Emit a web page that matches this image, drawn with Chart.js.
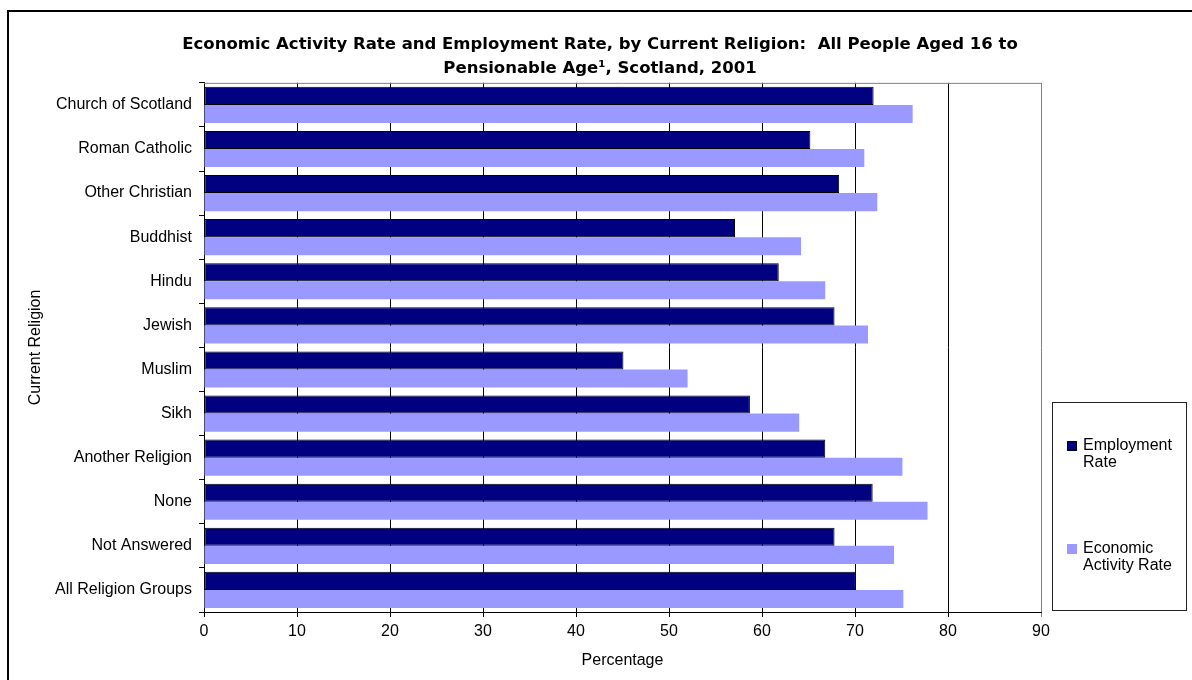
<!DOCTYPE html>
<html lang="en">
<head>
    <meta charset="UTF-8">
    <title>Economic Activity and Employment by Religion</title>
    <style>
        body { margin: 0; background: #fff; }
        canvas { display: block; }
    </style>
</head>
<body>
<canvas id="chart_religion" width="1192" height="680" role="img"
        aria-label="Economic Activity Rate and Employment Rate by Current Religion"></canvas>

<script src="https://cdn.jsdelivr.net/npm/chart.js@4.4.1/dist/chart.umd.min.js"></script>
<script>
    const religions = ['Church of Scotland', 'Roman Catholic', 'Other Christian', 'Buddhist', 'Hindu', 'Jewish',
        'Muslim', 'Sikh', 'Another Religion', 'None', 'Not Answered', 'All Religion Groups'];
    const employmentRate = [72.0, 65.2, 68.3, 57.1, 61.8, 67.8, 45.1, 58.7, 66.8, 71.9, 67.8, 70.1];
    const economicActivityRate = [76.2, 71.0, 72.4, 64.2, 66.8, 71.4, 52.0, 64.0, 75.1, 77.8, 74.2, 75.2];
    const seriesNames = ['Employment Rate', 'Economic Activity Rate'];
    const legendLines = [['Employment', 'Rate'], ['Economic', 'Activity Rate']];
    const titleLines = ['Economic Activity Rate and Employment Rate, by Current Religion:  All People Aged 16 to',
        'Pensionable Age\u00B9, Scotland, 2001'];

    const FONT = "'Liberation Sans', Arial, sans-serif";

    // frame, top/right plot border and the boxed legend on the right
    const decorations = {
        id: 'decorations',
        afterDraw(chart) {
            const ctx = chart.ctx;
            const area = chart.chartArea;
            ctx.save();

            ctx.strokeStyle = '#808080';
            ctx.lineWidth = 1;
            ctx.beginPath();
            ctx.moveTo(area.left, area.top + 0.5);
            ctx.lineTo(area.right, area.top + 0.5);
            ctx.stroke();

            ctx.strokeStyle = '#000';
            ctx.lineWidth = 2;
            ctx.strokeRect(8, 11, 1300, 800);

            ctx.lineWidth = 1;
            ctx.strokeStyle = '#222';
            ctx.strokeRect(1052.5, 402.5, 134, 208);

            const rows = [446, 549];
            ctx.font = '16px ' + FONT;
            ctx.textBaseline = 'middle';
            ctx.textAlign = 'left';
            chart.data.datasets.forEach((ds, i) => {
                let y = rows[i];
                ctx.fillStyle = ds.backgroundColor;
                ctx.fillRect(1067, y - 5, 10, 10);
                if (ds.borderWidth) {
                    ctx.strokeStyle = '#000';
                    ctx.strokeRect(1067.5, y - 4.5, 9, 9);
                }
                ctx.fillStyle = '#000';
                legendLines[i].forEach((line, j) => ctx.fillText(line, 1083, y + j * 17));
            });
            ctx.restore();
        }
    };

    let chartReligion = new Chart(
        document.getElementById('chart_religion'),
        {
            type: 'bar',
            data: {
                labels: religions,
                datasets: [
                    {
                        label: seriesNames[0],
                        backgroundColor: '#000080',
                        borderColor: '#000',
                        borderWidth: 1,
                        borderSkipped: false,
                        data: employmentRate,
                    },
                    {
                        label: seriesNames[1],
                        backgroundColor: '#9999FF',
                        borderWidth: 0,
                        data: economicActivityRate,
                    },
                ],
            },
            options: {
                indexAxis: 'y',
                responsive: false,
                animation: false,
                categoryPercentage: 0.82,
                barPercentage: 1.0,
                layout: {
                    padding: {left: 8, right: 0, top: 0, bottom: 0},
                },
                scales: {
                    x: {
                        min: 0,
                        max: 90,
                        ticks: {
                            stepSize: 10,
                            color: '#000',
                            padding: 5,
                            font: {family: FONT, size: 16},
                        },
                        grid: {
                            color: c => (c.tick && c.tick.value === 90) ? '#808080' : '#000',
                            tickLength: 5,
                        },
                        border: {color: '#000', width: 1},
                        title: {
                            display: true,
                            text: 'Percentage',
                            color: '#000',
                            font: {family: FONT, size: 16},
                            padding: {top: 0, bottom: 10},
                        },
                        afterFit(scale) {
                            scale.height = 68;
                        },
                    },
                    y: {
                        ticks: {
                            color: '#000',
                            padding: 7,
                            font: {family: FONT, size: 16},
                        },
                        grid: {
                            drawOnChartArea: false,
                            offset: true,
                            color: '#000',
                            tickLength: 5,
                        },
                        border: {color: '#000', width: 1},
                        title: {
                            display: true,
                            text: 'Current Religion',
                            color: '#000',
                            font: {family: FONT, size: 16},
                            padding: {top: 18, bottom: 0},
                        },
                        afterFit(scale) {
                            scale.width = 196;
                        },
                    },
                    legendSpace: {
                        axis: 'y',
                        type: 'linear',
                        position: 'right',
                        ticks: {display: false},
                        grid: {display: false},
                        border: {display: false},
                        afterFit(scale) {
                            scale.width = 151;
                        },
                    },
                },
                plugins: {
                    title: {
                        display: true,
                        text: titleLines,
                        color: '#000',
                        font: {family: "'DejaVu Sans', sans-serif", size: 16.5, weight: 'bold', lineHeight: 1.45},
                        padding: {top: 33, bottom: 2},
                    },
                    legend: {display: false},
                    tooltip: {enabled: false},
                },
            },
            plugins: [decorations],
        }
    );
</script>
</body>
</html>
